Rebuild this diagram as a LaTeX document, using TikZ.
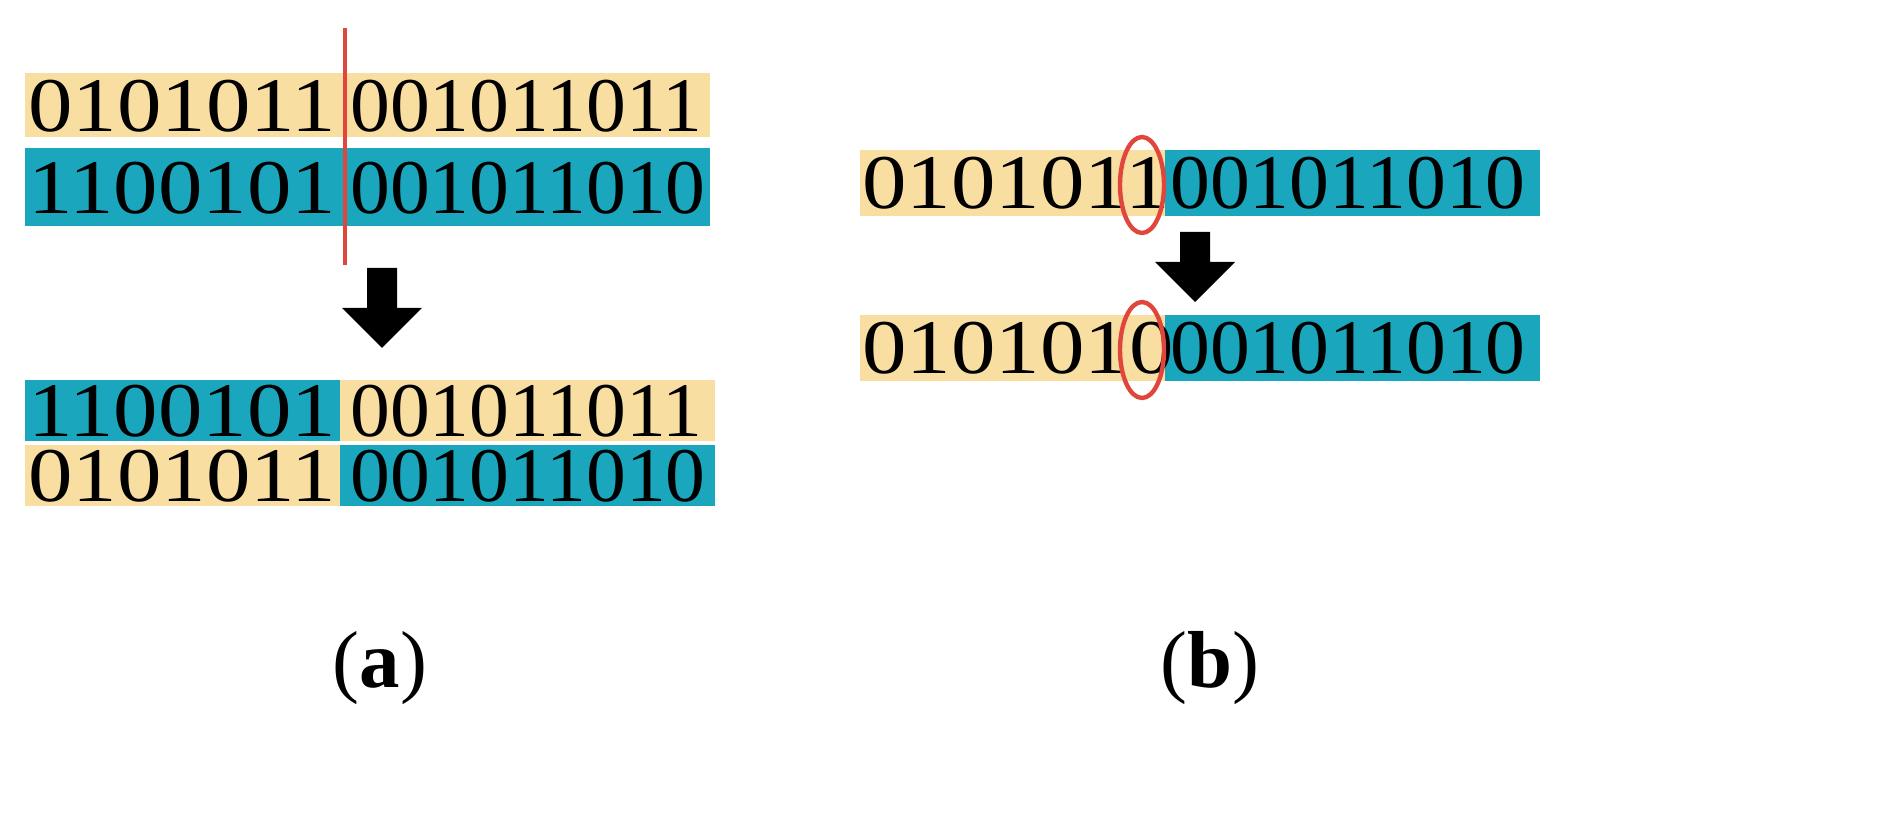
\documentclass[tikz,border=0pt]{standalone}
\usepackage{fontspec}
\usepackage{graphicx}
\setmainfont{Liberation Serif}
\definecolor{ylw}{HTML}{F9DEA2}
\definecolor{blu}{HTML}{1AA7BE}
\definecolor{rd}{HTML}{E0463C}
\newcommand{\lbits}[1]{\scalebox{1.15}[1]{#1}}
\newcommand{\rbits}[1]{\scalebox{1.03}[1]{#1}}
\tikzset{
  bits/.style={anchor=west,inner sep=0pt,font=\fontsize{44}{44}\selectfont},
  lbl/.style={inner sep=0pt,font=\fontsize{46}{46}\selectfont},
  ybar/.style={fill=ylw,draw=none},
  bbar/.style={fill=blu,draw=none},
  bigarrow/.style={fill=black},
  ringmark/.style={draw=rd,line width=2.5pt}
}
\begin{document}
\begin{tikzpicture}[x=0.02cm,y=-0.02cm]
\useasboundingbox (0,0) rectangle (1877,830);
% panel a
\fill[ybar] (25,73) rectangle (710,137);
\fill[bbar] (25,148) rectangle (710,226);
\node[bits] (a1l) at (28,106) {\lbits{0101011}};
\node[bits] (a1r) at (350,106) {\rbits{001011011}};
\node[bits] (a2l) at (28,188) {\lbits{1100101}};
\node[bits] (a2r) at (350,188) {\rbits{001011010}};
\coordinate (cutT) at (345,28);
\coordinate (cutB) at (345,265);
\draw[draw=rd,line width=2pt] (cutT) -- (cutB);
\fill[bigarrow] (367,268) -- (397,268) -- (397,308) -- (422,308) -- (382,348) -- (342,308) -- (367,308) -- cycle;
\fill[bbar] (25,380) rectangle (340,441);
\fill[ybar] (340,380) rectangle (715,441);
\fill[ybar] (25,445) rectangle (340,506);
\fill[bbar] (340,445) rectangle (715,506);
\node[bits] (a3l) at (28,411) {\lbits{1100101}};
\node[bits] (a3r) at (350,411) {\rbits{001011011}};
\node[bits] (a4l) at (28,476) {\lbits{0101011}};
\node[bits] (a4r) at (350,476) {\rbits{001011010}};
\node[lbl] (la) at (380,668) {(\textbf{a})};
% panel b
\fill[ybar] (860,150) rectangle (1165,216);
\fill[bbar] (1165,150) rectangle (1540,216);
\node[bits] (b1l) at (862,183) {\lbits{0101011}};
\node[bits] (b1r) at (1170,183) {\rbits{001011010}};
\draw[ringmark] (1142,185) ellipse (22 and 48);
\fill[bigarrow] (1180,232) -- (1210,232) -- (1210,262) -- (1235,262) -- (1195,302) -- (1155,262) -- (1180,262) -- cycle;
\fill[ybar] (860,315) rectangle (1165,381);
\fill[bbar] (1165,315) rectangle (1540,381);
\node[bits] (b2l) at (862,348) {\lbits{0101010}};
\node[bits] (b2r) at (1170,348) {\rbits{001011010}};
\draw[ringmark] (1142,350) ellipse (22 and 48);
\node[lbl] (lb) at (1210,668) {(\textbf{b})};
\end{tikzpicture}
\end{document}
